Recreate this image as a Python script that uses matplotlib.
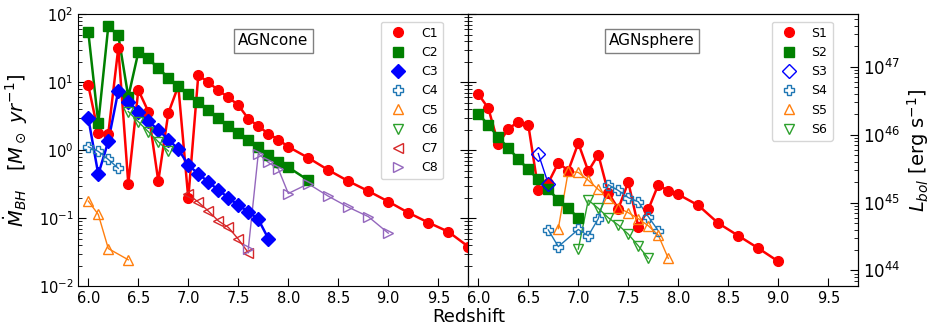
import matplotlib
matplotlib.use("Agg")
import matplotlib.pyplot as plt

# ---------------- data ----------------
z_C1 = [6.0, 6.1, 6.2, 6.3, 6.4, 6.5, 6.6, 6.7, 6.8, 6.9, 7.0, 7.1, 7.2, 7.3, 7.4,
        7.5, 7.6, 7.7, 7.8, 7.9, 8.0, 8.2, 8.4, 8.6, 8.8, 9.0, 9.2, 9.4, 9.6, 9.8]
C1 = [9.0, 1.8, 1.75, 32, 0.32, 7.7, 3.7, 0.35, 3.5, 8.8, 0.195, 12.7, 10.0, 7.6, 6.0,
      4.6, 2.9, 2.25, 1.75, 1.43, 1.12, 0.77, 0.51, 0.35, 0.25, 0.175, 0.12, 0.086, 0.063, 0.038]
z_C2 = [6.0, 6.1, 6.2, 6.3, 6.4, 6.5, 6.6, 6.7, 6.8, 6.9, 7.0, 7.1, 7.2, 7.3, 7.4,
        7.5, 7.6, 7.7, 7.8, 7.9, 8.0, 8.2]
C2 = [55, 2.5, 67, 49, 6.1, 27.5, 22.4, 16, 11.7, 8.8, 6.6, 5.1, 3.9, 2.96, 2.3,
      1.79, 1.39, 1.11, 0.86, 0.68, 0.56, 0.36]
z_C3 = [6.0, 6.1, 6.2, 6.3, 6.4, 6.5, 6.6, 6.7, 6.8, 6.9, 7.0, 7.1, 7.2, 7.3, 7.4,
        7.5, 7.6, 7.7, 7.8]
C3 = [2.96, 0.44, 1.35, 7.5, 5.2, 3.7, 2.65, 2.0, 1.43, 1.04, 0.6, 0.45, 0.34, 0.26, 0.2,
      0.155, 0.124, 0.096, 0.05]
z_C4 = [6.0, 6.1, 6.2, 6.3]
C4 = [1.12, 0.96, 0.73, 0.54]
z_C5 = [6.0, 6.1, 6.2, 6.4]
C5 = [0.178, 0.113, 0.0356, 0.0243]
z_C6 = [6.4, 6.5, 6.6, 6.7, 6.8]
C6 = [3.7, 2.62, 1.87, 1.33, 0.97]
z_C7 = [7.0, 7.1, 7.2, 7.3, 7.4, 7.5, 7.6]
C7 = [0.223, 0.172, 0.127, 0.091, 0.073, 0.049, 0.031]
z_C8 = [7.6, 7.7, 7.8, 7.9, 8.0, 8.2, 8.4, 8.6, 8.8, 9.0]
C8 = [0.035, 0.89, 0.66, 0.53, 0.23, 0.32, 0.21, 0.145, 0.105, 0.06]

z_S1 = [6.0, 6.1, 6.2, 6.3, 6.4, 6.5, 6.6, 6.7, 6.8, 6.9, 7.0, 7.1, 7.2, 7.3, 7.4,
        7.5, 7.6, 7.7, 7.8, 7.9, 8.0, 8.2, 8.4, 8.6, 8.8, 9.0]
S1 = [6.7, 4.15, 1.24, 2.04, 2.64, 2.36, 0.26, 0.33, 0.65, 0.50, 1.27, 0.49, 0.86, 0.236, 0.137,
      0.338, 0.075, 0.134, 0.31, 0.25, 0.223, 0.154, 0.084, 0.055, 0.036, 0.023]
z_S2 = [6.0, 6.1, 6.2, 6.3, 6.4, 6.5, 6.6, 6.7, 6.8, 6.9, 7.0]
S2 = [3.43, 2.36, 1.54, 1.08, 0.74, 0.52, 0.37, 0.264, 0.186, 0.139, 0.101]
z_S3 = [6.6, 6.7]
S3 = [0.89, 0.32]
z_S4 = [6.7, 6.8, 7.0, 7.1, 7.2, 7.3, 7.4, 7.5, 7.6, 7.7, 7.8]
S4 = [0.067, 0.038, 0.068, 0.055, 0.098, 0.31, 0.255, 0.20, 0.174, 0.105, 0.065]
z_S5 = [6.8, 6.9, 7.0, 7.1, 7.2, 7.3, 7.4, 7.5, 7.6, 7.7, 7.8, 7.9]
S5 = [0.07, 0.49, 0.47, 0.36, 0.264, 0.20, 0.142, 0.12, 0.098, 0.077, 0.056, 0.0255]
z_S6 = [7.0, 7.1, 7.2, 7.3, 7.4, 7.5, 7.6, 7.7]
S6 = [0.035, 0.184, 0.139, 0.101, 0.079, 0.058, 0.039, 0.0255]

xticks = [6.0, 6.5, 7.0, 7.5, 8.0, 8.5, 9.0, 9.5]
LBOL_FACTOR = 5.9e45   # erg/s per Msun/yr (eps=0.1)

# ---------------- figure ----------------
fig = plt.figure(figsize=(9.31, 3.34), dpi=100)
ax1 = fig.add_axes([0.0841, 0.1437, 0.4189, 0.8135])
ax2 = fig.add_axes([0.5030, 0.1437, 0.4189, 0.8135], sharey=ax1)

def series(ax, z, v, label, marker, color, filled, lw, ms):
    ax.plot(z, v, '-', color=color, lw=lw, zorder=2)
    if filled:
        ax.plot(z, v, ls='none', marker=marker, color=color, ms=ms, label=label, zorder=3)
    else:
        ax.plot(z, v, ls='none', marker=marker, color=color, mfc='none', mec=color,
                mew=1.0, ms=ms, label=label, zorder=3)

left_series = [
    (z_C1, C1, 'C1', 'o', 'red', True, 1.8, 7),
    (z_C2, C2, 'C2', 's', 'green', True, 1.8, 7),
    (z_C3, C3, 'C3', 'D', 'blue', True, 1.8, 7),
    (z_C4, C4, 'C4', 'P', '#1f77b4', False, 1.0, 7),
    (z_C5, C5, 'C5', '^', '#ff7f0e', False, 1.0, 7),
    (z_C6, C6, 'C6', 'v', '#2ca02c', False, 1.0, 7),
    (z_C7, C7, 'C7', '<', '#d62728', False, 1.0, 7),
    (z_C8, C8, 'C8', '>', '#9467bd', False, 1.0, 7),
]
right_series = [
    (z_S1, S1, 'S1', 'o', 'red', True, 1.8, 7),
    (z_S2, S2, 'S2', 's', 'green', True, 1.8, 7),
    (z_S3, S3, 'S3', 'D', 'blue', False, 1.0, 7),
    (z_S4, S4, 'S4', 'P', '#1f77b4', False, 1.0, 7),
    (z_S5, S5, 'S5', '^', '#ff7f0e', False, 1.0, 7),
    (z_S6, S6, 'S6', 'v', '#2ca02c', False, 1.0, 7),
]
for s in left_series:
    series(ax1, *s)
for s in right_series:
    series(ax2, *s)

for ax in (ax1, ax2):
    ax.set_yscale('log')
    ax.set_ylim(1e-2, 1e2)
    ax.set_xlim(5.9, 9.8)
    ax.set_xticks(xticks)
    ax.tick_params(axis='both', which='both', direction='in')
    ax.tick_params(axis='both', which='major', length=6, labelsize=10.5)
    ax.tick_params(axis='both', which='minor', length=3)

ax1.tick_params(axis='y', which='both', left=True, right=True)
ax2.tick_params(axis='y', which='both', left=True, right=False, labelleft=False)

ax2r = ax2.twinx()
ax2r.set_yscale('log')
ax2r.set_ylim(1e-2 * LBOL_FACTOR, 1e2 * LBOL_FACTOR)
ax2r.tick_params(axis='y', which='both', direction='in')
ax2r.tick_params(axis='y', which='major', length=6, labelsize=12)
ax2r.tick_params(axis='y', which='minor', length=3)
ax2r.set_ylabel(r'$L_{bol}$ [erg s$^{-1}$]', fontsize=14, labelpad=3)

ax1.set_ylabel(r'$\dot{M}_{BH}\quad[M_\odot\ yr^{-1}]$', fontsize=14, labelpad=6)
fig.text(468.3 / 931, 0.052, 'Redshift', ha='center', va='center', fontsize=13)

box = dict(boxstyle='square,pad=0.3', facecolor='white', edgecolor='gray')
ax1.text(0.5, 0.902, 'AGNcone', transform=ax1.transAxes, ha='center', va='center',
         fontsize=11, bbox=box)
ax2.text(0.471, 0.902, 'AGNsphere', transform=ax2.transAxes, ha='center', va='center',
         fontsize=11, bbox=box)

for ax in (ax1, ax2):
    ax.legend(loc='upper right', bbox_to_anchor=(0.934, 0.973), borderaxespad=0,
              fontsize=9, numpoints=1)

fig.savefig('out.png', dpi=100)
